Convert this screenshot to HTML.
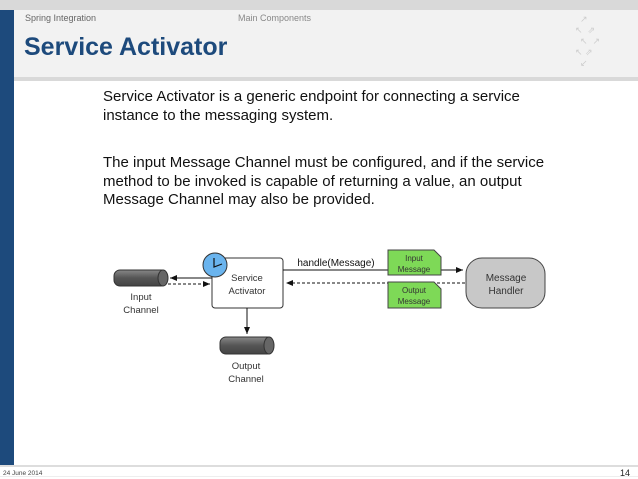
<!DOCTYPE html>
<html><head><style>
body{margin:0;width:638px;height:479px;position:relative;background:#fff;font-family:"Liberation Sans",sans-serif;overflow:hidden}
.a{position:absolute}
</style></head><body>
<div class="a" style="left:0;top:0;width:638px;height:10px;background:#d9d9d9"></div>
<div class="a" style="left:0;top:10px;width:638px;height:67px;background:#f2f2f2"></div>
<div class="a" style="left:0;top:77px;width:638px;height:4px;background:#d9d9d9"></div>
<div class="a" style="left:0;top:10px;width:14px;height:455px;background:#1d4a7c"></div>
<div class="a" style="left:25px;top:13px;font-size:9px;color:#666">Spring Integration</div>
<div class="a" style="left:238px;top:13px;font-size:9px;color:#888">Main Components</div>
<div class="a" style="left:24px;top:33px;font-size:25px;font-weight:bold;color:#1d4a7c">Service Activator</div>
<div class="a" style="left:575px;top:14px;width:50px;height:58px;color:#ccc;font-size:9px;line-height:11px">&nbsp;&nbsp;↗<br>↖&nbsp;&nbsp;⇗<br>&nbsp;&nbsp;↖&nbsp;&nbsp;↗<br>↖&nbsp;⇗&nbsp;&nbsp;<br>&nbsp;&nbsp;↙</div>
<div class="a" style="left:103px;top:88px;font-size:15px;line-height:18.5px;color:#111;width:470px">Service Activator is a generic endpoint for connecting a service<br>instance to the messaging system.</div>
<div class="a" style="left:103px;top:154px;font-size:15px;line-height:18.5px;color:#111;width:470px">The input Message Channel must be configured, and if the service<br>method to be invoked is capable of returning a value, an output<br>Message Channel may also be provided.</div>
<svg class="a" style="left:0;top:0" width="638" height="479">
<defs>
<marker id="ar" markerWidth="8" markerHeight="8" refX="7" refY="4" orient="auto"><path d="M0,1 L7,4 L0,7z" fill="#111"/></marker>
<linearGradient id="cy" x1="0" y1="0" x2="0" y2="1"><stop offset="0" stop-color="#888"/><stop offset="0.5" stop-color="#555"/><stop offset="1" stop-color="#444"/></linearGradient>
</defs>
<g font-family="Liberation Sans,sans-serif" font-size="9.5" fill="#333" text-anchor="middle">
<rect x="114" y="270" width="53" height="16" rx="6" fill="url(#cy)" stroke="#333"/>
<ellipse cx="163" cy="278" rx="5" ry="8" fill="#666" stroke="#333"/>
<text x="141" y="300">Input</text><text x="141" y="313">Channel</text>
<rect x="212" y="258" width="71" height="50" rx="3" fill="#fff" stroke="#333"/>
<text x="247" y="281">Service</text><text x="247" y="294">Activator</text>
<circle cx="215" cy="265" r="12" fill="#6ab4ee" stroke="#333"/>
<path d="M214,258 L214,267 L222,264" stroke="#111" fill="none" stroke-width="1.2"/>
<line x1="212" y1="278" x2="170" y2="278" stroke="#111" marker-end="url(#ar)"/>
<line x1="168" y1="284" x2="210" y2="284" stroke="#111" stroke-dasharray="3,2" marker-end="url(#ar)"/>
<line x1="283" y1="270" x2="463" y2="270" stroke="#111" marker-end="url(#ar)"/>
<text x="336" y="266" font-size="10" fill="#111">handle(Message)</text>
<line x1="465" y1="283" x2="286" y2="283" stroke="#111" stroke-dasharray="3,2" marker-end="url(#ar)"/>
<path d="M388,250 H434 L441,257 V275 H388Z" fill="#7ed957" stroke="#444"/>
<text x="414" y="261" font-size="8">Input</text><text x="414" y="272" font-size="8">Message</text>
<path d="M388,282 H434 L441,289 V308 H388Z" fill="#7ed957" stroke="#444"/>
<text x="414" y="293" font-size="8">Output</text><text x="414" y="304" font-size="8">Message</text>
<rect x="466" y="258" width="79" height="50" rx="16" fill="#c8c8c8" stroke="#444"/>
<text x="506" y="281" font-size="10">Message</text><text x="506" y="294" font-size="10">Handler</text>
<line x1="247" y1="308" x2="247" y2="334" stroke="#111" marker-end="url(#ar)"/>
<rect x="220" y="337" width="53" height="17" rx="6" fill="url(#cy)" stroke="#333"/>
<ellipse cx="269" cy="345.5" rx="5" ry="8.5" fill="#666" stroke="#333"/>
<text x="246" y="369">Output</text><text x="246" y="382">Channel</text>
</g>
<rect x="0" y="465" width="638" height="2" fill="#ddd"/>
<rect x="0" y="476" width="638" height="1" fill="#eee"/>
<text x="3" y="475" font-family="Liberation Sans,sans-serif" font-size="6.5" fill="#444">24 June 2014</text>
<text x="620" y="476" font-family="Liberation Sans,sans-serif" font-size="9" fill="#222">14</text>
</svg>
</body></html>
